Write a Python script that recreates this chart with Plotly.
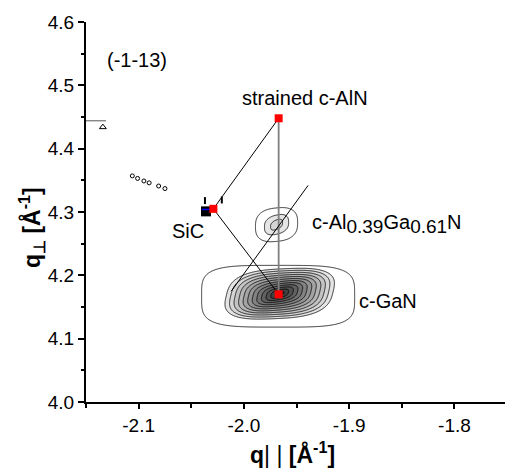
import numpy as np
import plotly.graph_objects as go

# ---------------- data ----------------
# reciprocal-space peaks (q_par, q_perp) and their estimated shapes
peak_labels = ["c-GaN", "c-Al0.39Ga0.61N", "c-GaN diffuse"]
peak_profile = ["cone", "lorentz", "lorentz"]
peak_qx = [-1.966, -1.969, -1.9675]
peak_qz = [4.171, 4.280, 4.167]
peak_wx = [0.0503, 0.0050, 0.0895]
peak_wz = [0.0395, 0.0066, 0.0600]
peak_skew_x = [0.14, 0.0, 0.0]
peak_shear = [0.35, 0.80, 0.0]
peak_shear_r = [0.5, 2.0, 1.0]
peak_shape_p = [3.0, 2.7, 4.0]
peak_power = [2.973, 0.575, 1.0]
peak_log_amp = [3.723, 1.208, 0.72]

# contour levels (log10 intensity)
level_start = 0.5
level_step = 0.25
level_count = 13

# red reference markers
marker_names = ["SiC", "strained c-AlN", "c-GaN"]
marker_qx = [-2.029, -1.967, -1.967]
marker_qz = [4.305, 4.448, 4.170]

# SiC substrate blob
sic_qx = [-2.036]
sic_qz = [4.301]
sic_tick_qx = [-2.037, -2.021]
sic_tick_qz = [4.318, 4.319]

# relaxation line
relax_qx = [-1.939, -2.012]
relax_qz = [4.342, 4.175]

# small noise islands
noise_qx = [-2.106, -2.101, -2.095, -2.090, -2.081, -2.075]
noise_qz = [4.357, 4.353, 4.349, 4.346, 4.341, 4.337]
tri_qx = [-2.134]
tri_qz = [4.434]

x_ticks = [-2.1, -2.0, -1.9, -1.8]
x_ticktext = ["-2.1", "-2.0", "-1.9", "-1.8"]
y_ticks = [4.0, 4.1, 4.2, 4.3, 4.4, 4.5, 4.6]
y_ticktext = ["4.0", "4.1", "4.2", "4.3", "4.4", "4.5", "4.6"]

# ---------------- intensity map ----------------
gx = np.arange(-2.07, -1.86, 0.0007)
gy = np.arange(4.08, 4.33, 0.0007)
X, Y = np.meshgrid(gx, gy)
Z = np.full(X.shape, -3.0)
for prof, qx, qz, wx, wz, kx, sh, shr, p, m, la in zip(
        peak_profile, peak_qx, peak_qz, peak_wx, peak_wz, peak_skew_x, peak_shear,
        peak_shear_r, peak_shape_p, peak_power, peak_log_amp):
    dy0 = Y - qz
    dx = (X - qx) - kx * dy0
    r0 = (np.abs(dx / wx) ** p + np.abs(dy0 / wz) ** p) ** (1.0 / p)
    dy = dy0 - sh * dx / (1.0 + (r0 / shr) ** 2)
    r = (np.abs(dx / wx) ** p + np.abs(dy / wz) ** p) ** (1.0 / p)
    if prof == "cone":
        z = la - m * r
    else:
        z = la - m * np.log10(1.0 + r ** 2)
    Z = np.maximum(Z, z)

FONT = "Liberation Sans, Arial, sans-serif"

n_bands = level_count + 1
light, dark = 229, 48
cols = ["#ffffff", "#ffffff"]
for k in range(2, n_bands):
    g = int(round(light - (light - dark) * (k - 2) / (n_bands - 3)))
    cols.append(f"rgb({g},{g},{g})")
cscale = []
for i, c in enumerate(cols):
    cscale.append([i / n_bands, c])
    cscale.append([(i + 1) / n_bands, c])

fig = go.Figure()
fig.add_trace(go.Contour(
    x=gx, y=gy, z=Z,
    contours=dict(start=level_start, end=level_start + (level_count - 1) * level_step,
                  size=level_step, coloring="fill"),
    colorscale=cscale, zauto=False,
    zmin=level_start - level_step,
    zmax=level_start + level_count * level_step,
    line=dict(color="black", width=0.8, smoothing=0.8),
    showscale=False, hoverinfo="skip",
))

# lines between markers
fig.add_trace(go.Scatter(x=[marker_qx[0], marker_qx[1]], y=[marker_qz[0], marker_qz[1]],
                         mode="lines", line=dict(color="black", width=1), showlegend=False))
fig.add_trace(go.Scatter(x=[marker_qx[0], marker_qx[2]], y=[marker_qz[0], marker_qz[2]],
                         mode="lines", line=dict(color="black", width=1), showlegend=False))
fig.add_trace(go.Scatter(x=[marker_qx[1], marker_qx[2]], y=[marker_qz[1], marker_qz[2]],
                         mode="lines", line=dict(color="#808080", width=1.8), showlegend=False))
fig.add_trace(go.Scatter(x=relax_qx, y=relax_qz, mode="lines",
                         line=dict(color="black", width=1), showlegend=False))

# noise islands
fig.add_trace(go.Scatter(x=noise_qx, y=noise_qz, mode="markers",
                         marker=dict(symbol="circle-open", size=4, color="black", line=dict(width=1)),
                         showlegend=False))
fig.add_trace(go.Scatter(x=tri_qx, y=tri_qz, mode="markers",
                         marker=dict(symbol="triangle-up-open", size=6, color="black", line=dict(width=1)),
                         showlegend=False))
fig.add_trace(go.Scatter(x=[-2.15, tri_qx[0] + 0.003], y=[4.444, 4.444], mode="lines",
                         line=dict(color="#555555", width=1), showlegend=False))

# SiC blob
fig.add_trace(go.Scatter(x=sic_qx, y=sic_qz, mode="markers",
                         marker=dict(symbol="square", size=10, color="black"), showlegend=False))
fig.add_trace(go.Scatter(x=[sic_qx[0] - 0.004, sic_qx[0] + 0.005], y=[sic_qz[0] + 0.003] * 2,
                         mode="lines", line=dict(color="#0000ff", width=1.5), showlegend=False))
fig.add_trace(go.Scatter(x=sic_tick_qx, y=sic_tick_qz, mode="markers",
                         marker=dict(symbol="line-ns", size=5, line=dict(width=2, color="black")),
                         showlegend=False))

# red markers
fig.add_trace(go.Scatter(x=marker_qx, y=marker_qz, mode="markers",
                         marker=dict(symbol="square", size=8, color="#ff0000"), showlegend=False))

ann_font = dict(family=FONT, size=20, color="black")
big = '<span style="font-size:19px">'
annotations = [
    dict(x=-2.1016, y=4.540, text="(-1-13)"),
    dict(x=-1.942, y=4.480, text="strained c-AlN"),
    dict(x=-2.053, y=4.270, text="SiC"),
    dict(x=-1.937, y=4.281, text="c-Al<sub>" + big + "0.39</span></sub>Ga<sub>" + big + "0.61</span></sub>N",
         xanchor="left"),
    dict(x=-1.893, y=4.159, text="c-GaN", xanchor="left"),
]
for a in annotations:
    a.setdefault("xanchor", "center")
    a.update(xref="x", yref="y", showarrow=False, font=ann_font, yanchor="middle")

title_font = dict(family=FONT, size=23, color="black")
annotations.append(dict(xref="paper", yref="paper", x=0.494, y=-0.134, showarrow=False,
                        xanchor="center", yanchor="middle", font=title_font,
                        text="<b>q</b>| | <b>[Å<sup>-1</sup>]</b>"))
annotations.append(dict(xref="paper", yref="paper", x=-0.131, y=0.458, showarrow=False,
                        xanchor="center", yanchor="middle", font=title_font, textangle=-90,
                        text="<b>q<sub>⊥</sub> [Å<sup>-1</sup>]</b>"))
fig.update_layout(annotations=annotations)

tick_font = dict(family=FONT, size=19, color="black")
fig.update_layout(
    width=505, height=471,
    margin=dict(l=86, r=0, t=22, b=69),
    paper_bgcolor="white", plot_bgcolor="white",
    font=dict(family=FONT, color="black"),
    xaxis=dict(range=[-2.15, -1.752], tickvals=x_ticks, ticktext=x_ticktext,
               ticks="outside", ticklen=5, tickwidth=1.5, tickcolor="black",
               minor=dict(dtick=0.05, tick0=-2.1, ticks="outside", ticklen=4, tickwidth=1.5, tickcolor="black"),
               showline=True, linewidth=2, linecolor="black", showgrid=False, zeroline=False,
               tickfont=tick_font),
    yaxis=dict(range=[4.0, 4.6], tickvals=y_ticks, ticktext=y_ticktext,
               ticks="outside", ticklen=6, tickwidth=1.5, tickcolor="black",
               minor=dict(dtick=0.05, tick0=4.0, ticks="outside", ticklen=3, tickwidth=1.5, tickcolor="black"),
               showline=True, linewidth=2, linecolor="black", showgrid=False, zeroline=False,
               tickfont=tick_font),
    xaxis2=dict(range=[-2.15, -1.752], overlaying="x", side="top", dtick=0.05, tick0=-2.1,
                ticks="inside", ticklen=8, tickwidth=1.5, tickcolor="black", showticklabels=False,
                showline=True, linewidth=2, linecolor="black", showgrid=False, zeroline=False),
    yaxis2=dict(range=[4.0, 4.6], overlaying="y", side="right", dtick=0.1, tick0=4.0,
                ticks="inside", ticklen=6, tickwidth=1.5, tickcolor="black", showticklabels=False,
                minor=dict(dtick=0.05, ticks="inside", ticklen=3, tickwidth=1.5, tickcolor="black"),
                showline=False, showgrid=False, zeroline=False),
)
fig.write_html("out.html")
